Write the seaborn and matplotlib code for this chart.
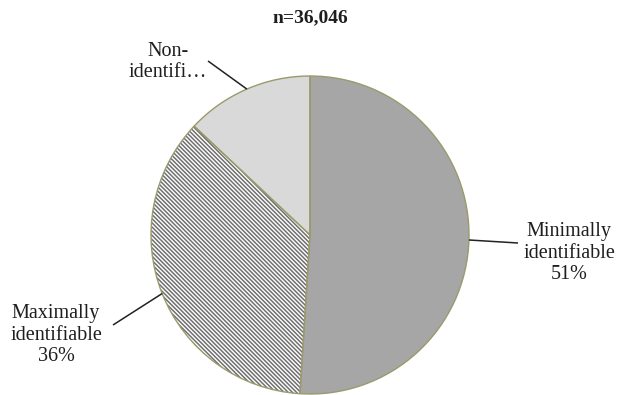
import numpy as np
import matplotlib
matplotlib.use("Agg")
import matplotlib.pyplot as plt
import seaborn as sns

# Share of records by identifiability level
categories = ["Minimally identifiable", "Maximally identifiable", "Non-identifiable"]
shares = [51, 36, 13]
sample_size = "n=36,046"

# Label texts as shown next to each slice (the last one is truncated)
slice_labels = [
    f"Minimally\nidentifiable\n{shares[0]}%",
    f"Maximally\nidentifiable\n{shares[1]}%",
    "Non-\nidentifi\u2026",
]

sns.set_theme(style="white")
plt.rcParams["font.family"] = ["Liberation Serif", "DejaVu Serif"]
plt.rcParams["hatch.linewidth"] = 1.1

fill_colors = ["#a6a6a6", "#ffffff", "#d9d9d9"]
hatches = [None, "\\" * 8, None]
edge_color = "#9a9a6c"

W, H = 618, 395
fig = plt.figure(figsize=(W / 100, H / 100), dpi=100)
ax = fig.add_axes([0, 0, 1, 1])

center = (310, H - 235)
radius = 159

# Filled slices (hatch colour taken from the edge colour, edge itself not drawn)
wedges, _ = ax.pie(shares, colors=fill_colors, startangle=90, counterclock=False,
                   center=center, radius=radius, frame=True,
                   wedgeprops=dict(linewidth=0, edgecolor="#707070"))
for w, h in zip(wedges, hatches):
    if h:
        w.set_hatch(h)

# Slice outlines
ax.pie(shares, colors=["none"] * len(shares), startangle=90, counterclock=False,
       center=center, radius=radius, frame=True,
       wedgeprops=dict(linewidth=1.0, edgecolor=edge_color, fill=False))
ax.set_xlim(0, W)
ax.set_ylim(0, H)
ax.set_aspect("equal")
ax.axis("off")

# Leader line end points and label centres (pixel layout, y from top)
leader_ends = [(518, 243), (113, 325), (208, 61)]
label_centres = [(569, 253), (56, 335), (168, 62)]

for w, txt, end, lc in zip(wedges, slice_labels, leader_ends, label_centres):
    mid = np.deg2rad((w.theta1 + w.theta2) / 2)
    edge_pt = (center[0] + radius * np.cos(mid), center[1] + radius * np.sin(mid))
    ax.plot([edge_pt[0], end[0]], [edge_pt[1], H - end[1]], color="#222222", lw=1.1,
            solid_capstyle="butt")
    ax.text(lc[0], H - lc[1], txt, ha="center", va="center", multialignment="center",
            fontsize=14.5, color="#1e1e1e", linespacing=1.15)

ax.text(310, H - 18, sample_size, ha="center", va="center", fontsize=14,
        fontweight="bold", color="#1e1e1e")

fig.savefig("out.png", dpi=100)
